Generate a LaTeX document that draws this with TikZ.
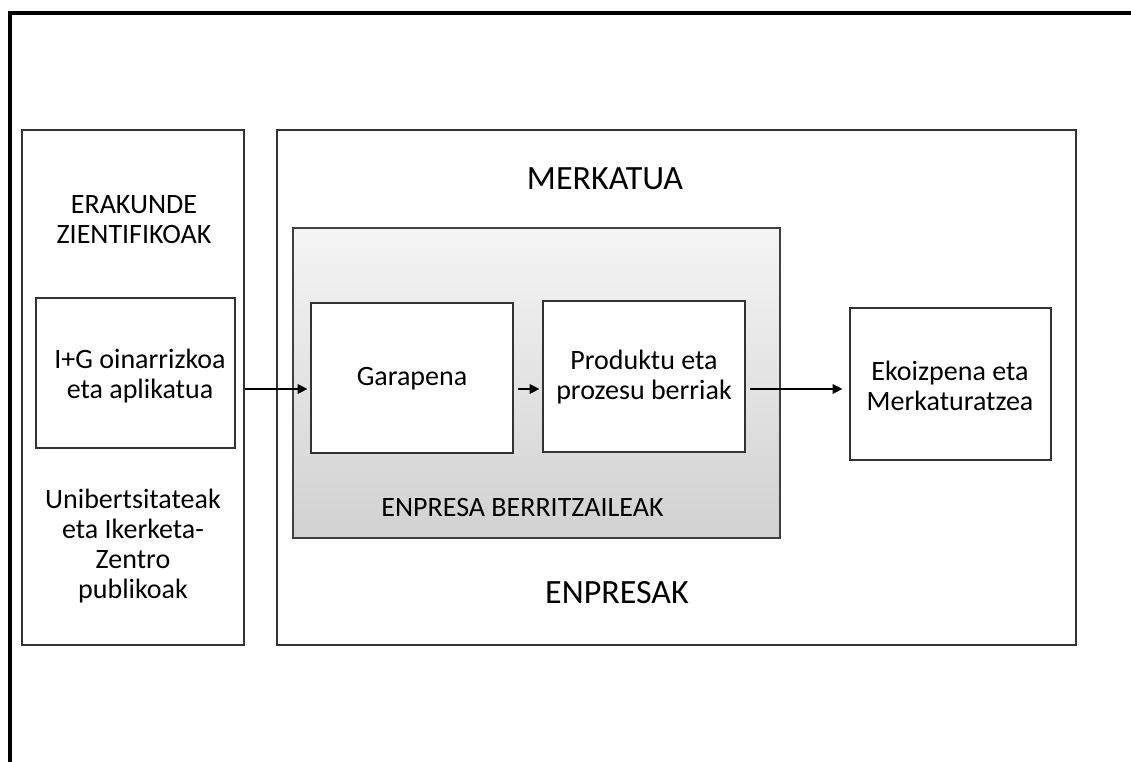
\documentclass[tikz,border=0pt]{standalone}
\usepackage{fontspec}
\setmainfont{Carlito}
\usetikzlibrary{arrows.meta}
\begin{document}
\begin{tikzpicture}[x=0.75pt,y=-0.75pt,
  bx/.style={draw=black!80,line width=1.1pt,inner sep=0pt,fill=white},
  lbl/.style={font=\fontsize{21pt}{22.5pt}\selectfont,align=center,inner sep=0pt},
  big/.style={font=\fontsize{25.5pt}{28pt}\selectfont,inner sep=0pt},
  arr/.style={line width=1.6pt,-{Triangle[length=7.5pt,width=7pt]}}]
\useasboundingbox (0,0) rectangle (1131,762);
\fill[white] (0,0) rectangle (1131,762);
% outer frame
\coordinate (tr) at (1131,13);
\coordinate (tl) at (10,13);
\coordinate (bl) at (10,762);
\draw[line width=2.3pt,line join=miter] (tr) -- (tl) -- (bl);
% containers
\node[bx,minimum width={222*0.75pt},minimum height={515*0.75pt}] (left) at (133,387.5) {};
\node[bx,minimum width={799*0.75pt},minimum height={515*0.75pt}] (right) at (676.5,387.5) {};
\node[draw=black!75,line width=1.1pt,inner sep=0pt,top color=black!4,bottom color=black!18,
      minimum width={487*0.75pt},minimum height={310*0.75pt}] (grad) at (536.5,383) {};
% inner boxes
\node[bx,minimum width={199*0.75pt},minimum height={150*0.75pt}] (ig) at (135.5,373) {};
\node[bx,minimum width={202*0.75pt},minimum height={150*0.75pt}] (gar) at (412,378) {};
\node[bx,minimum width={202*0.75pt},minimum height={151*0.75pt}] (prod) at (644,376.5) {};
\node[bx,minimum width={201*0.75pt},minimum height={152*0.75pt}] (ekoi) at (950.5,384) {};
% texts
\node[lbl] (t1) at (134,219.5) {ERAKUNDE\\ZIENTIFIKOAK};
\node[lbl] (t2) at (140,376) {I+G oinarrizkoa\\eta aplikatua};
\node[lbl] (t3) at (133,546.5) {Unibertsitateak\\eta Ikerketa-\\Zentro\\publikoak};
\node[big,anchor=base] (t4) at (605,190) {MERKATUA};
\node[big,anchor=base] (t5) at (617,603) {ENPRESAK};
\node[lbl,anchor=base] (t6) at (522.5,516) {ENPRESA BERRITZAILEAK};
\node[lbl,anchor=base] (t7) at (412,386) {Garapena};
\node[lbl] (t8) at (644,377.5) {Produktu eta\\prozesu berriak};
\node[lbl] (t9) at (950,385.5) {Ekoizpena eta\\Merkaturatzea};
% arrows
\coordinate (ay) at (0,389);
\draw[arr,shorten >=2pt] (left.east |- ay) -- (gar.west |- ay);
\draw[arr,shorten <=3pt,shorten >=2pt] (gar.east |- ay) -- (prod.west |- ay);
\draw[arr,shorten <=3.5pt,shorten >=5pt] (prod.east |- ay) -- (ekoi.west |- ay);
\end{tikzpicture}
\end{document}
